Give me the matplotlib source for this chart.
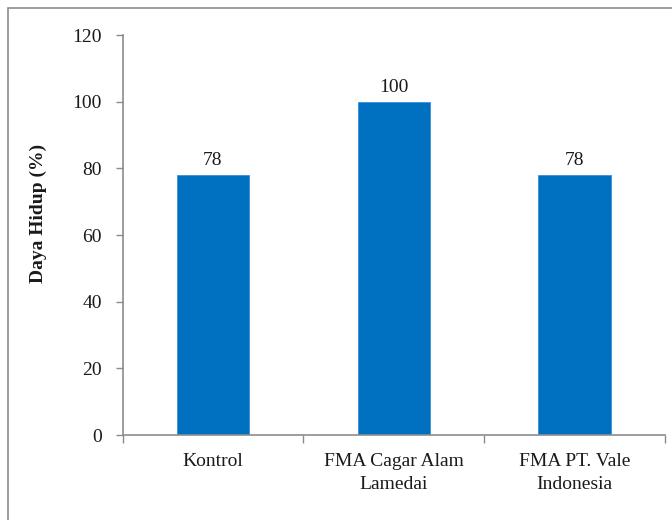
import matplotlib
matplotlib.use("Agg")
import matplotlib.pyplot as plt
from matplotlib.patches import Rectangle

categories = ["Kontrol", "FMA Cagar Alam\nLamedai", "FMA PT. Vale\nIndonesia"]
values = [78, 100, 78]
y_ticks = [0, 20, 40, 60, 80, 100, 120]

plt.rcParams["font.family"] = ["Liberation Serif", "DejaVu Serif"]

W, H = 672, 520
FS = 14
fig = plt.figure(figsize=(W / 100, H / 100), dpi=100)

# outer frame of the chart area
fig.patches.append(Rectangle((8 / W, -0.05), 1.2, 1 - 7.5 / H + 0.05,
                             transform=fig.transFigure, fill=False,
                             edgecolor="#8c8c8c", linewidth=1.2))

ax = fig.add_axes([122.5 / W, 1 - 435 / H, (665 - 122.5) / W, 400 / H])

x = range(len(categories))
bars = ax.bar(x, values, width=0.4, color="#0070C0", edgecolor="#3d8fd6", linewidth=0.6)

for xi, v in zip(x, values):
    ax.annotate(f"{v}", (xi, v), xytext=(0, 4), textcoords="offset points",
                ha="center", va="bottom", fontsize=FS, color="#1a1a1a")

ax.set_xlim(-0.5, len(categories) - 0.5)
ax.set_ylim(0, 120)
ax.set_yticks(y_ticks)
ax.tick_params(axis="y", direction="out", length=5, width=1, color="#8c8c8c",
               labelsize=FS, labelcolor="#1a1a1a", pad=10)

ax.set_xticks(list(x))
ax.set_xticklabels(categories, fontsize=FS, color="#1a1a1a", linespacing=1.42)
ax.tick_params(axis="x", length=0, pad=13)
# category boundary ticks
ax.set_xticks([i - 0.5 for i in range(len(categories) + 1)], minor=True)
ax.tick_params(axis="x", which="minor", direction="out", length=6, width=1, color="#8c8c8c")

for side in ("top", "right"):
    ax.spines[side].set_visible(False)
for side in ("left", "bottom"):
    ax.spines[side].set_color("#8c8c8c")
    ax.spines[side].set_linewidth(1.2)

fig.text(38 / W, 1 - 213 / H, "Daya Hidup (%)", rotation=90, ha="center", va="center",
         fontsize=FS, fontweight="bold", color="#1a1a1a")

fig.savefig("out.png", dpi=100)
